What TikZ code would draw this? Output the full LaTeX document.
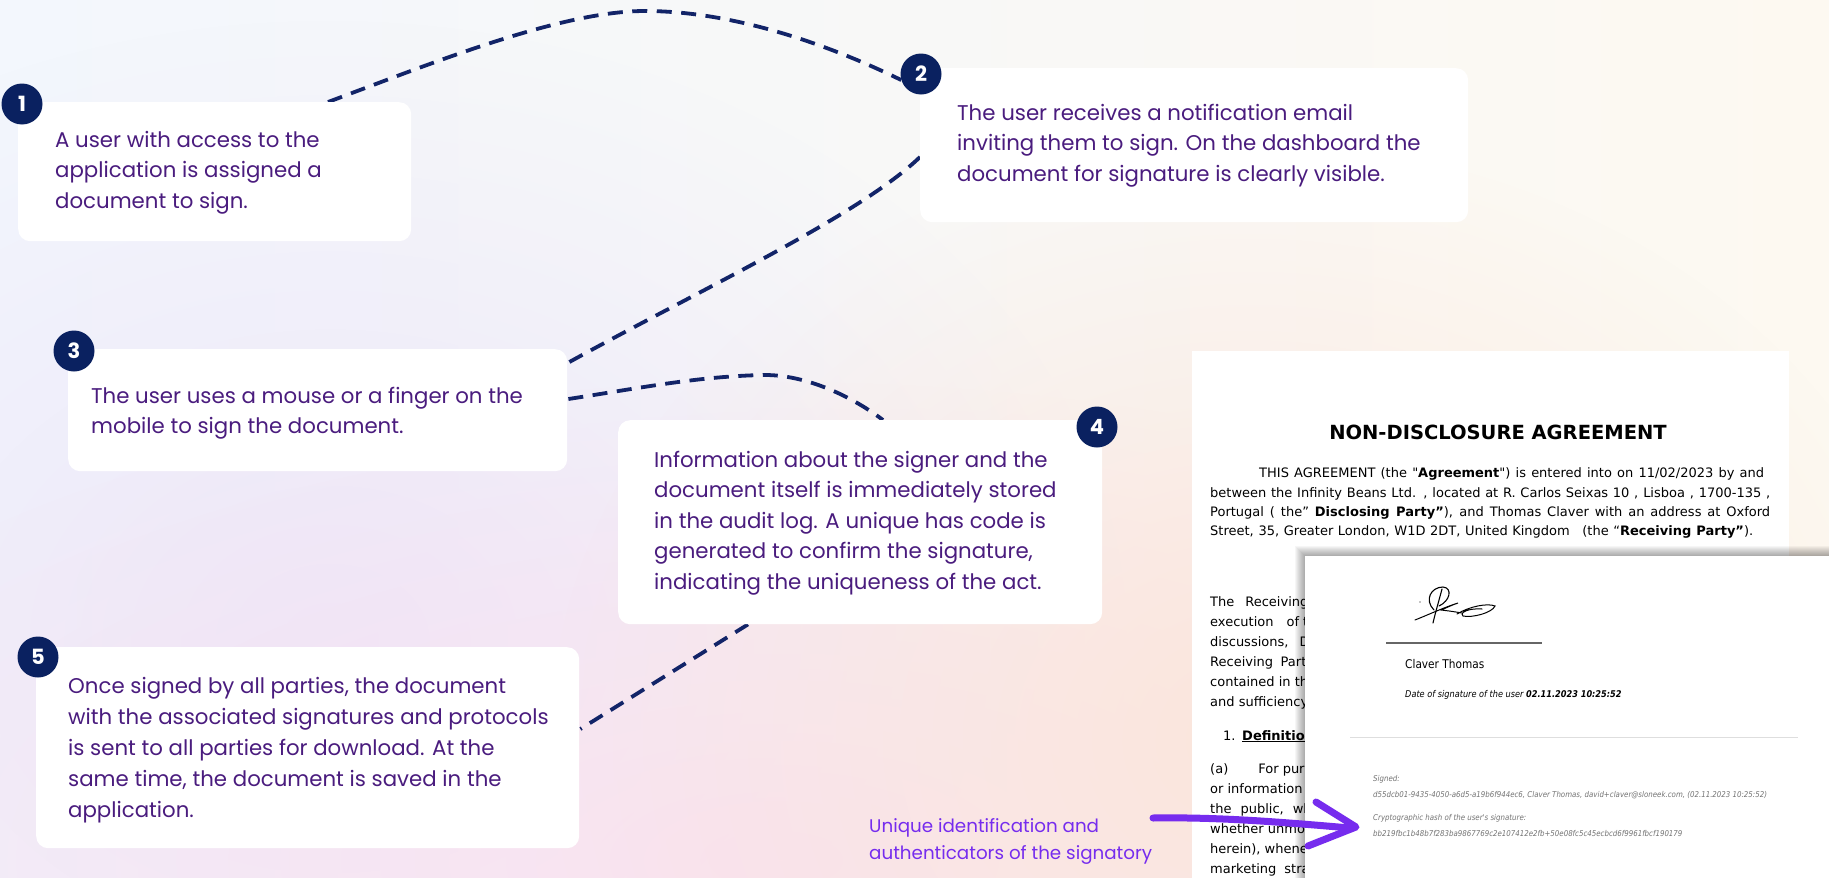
\documentclass[tikz,border=0pt]{standalone}
\usepackage{graphicx}
\usepackage{fontspec}
\setmainfont{Poppins}
\newfontfamily\dvs{DejaVu Sans}
\usetikzlibrary{calc,fadings}
\pgfdeclarelayer{back}
\pgfdeclarelayer{links}
\pgfsetlayers{back,links,main}
\definecolor{navy}{RGB}{18,36,104}
\definecolor{circ}{RGB}{10,33,96}
\definecolor{txtp}{RGB}{74,28,126}
\definecolor{vio}{RGB}{118,44,238}
\definecolor{bgA}{RGB}{243,247,253}
\definecolor{bgB}{RGB}{253,249,241}
\definecolor{lav}{RGB}{237,231,249}
\definecolor{pnk}{RGB}{250,226,240}
\definecolor{pch}{RGB}{251,230,220}
\definecolor{hashgray}{RGB}{115,115,115}
\tikzfading[name=blobfade, inner color=transparent!0, outer color=transparent!100]
\newcommand{\cond}[1]{\scalebox{0.88}[1]{#1}}
\begin{document}
\begin{tikzpicture}[x=1pt,y=-1pt,
  box/.style={fill=white, rounded corners=12pt, anchor=north west, inner sep=0pt},
  num/.style={circle, fill=circ, text=white, minimum size=41pt, inner sep=0pt, font=\fontsize{21}{21}\selectfont\bfseries},
  txt/.style={anchor=base west, inner sep=0pt, text=txtp, font=\fontsize{21.3}{30.5}\selectfont},
  dashconn/.style={draw=navy, line width=3.8pt, dash pattern=on 15pt off 9.5pt},
  doctxt/.style={anchor=base west, inner sep=0pt, text=black, font=\dvs\fontsize{13}{20}\selectfont},
  small/.style={anchor=base west, inner sep=0pt, text=hashgray, font=\dvs\itshape\fontsize{8}{9}\selectfont},
  arr/.style={draw=vio, line width=7pt, line cap=round, line join=round}
]
\useasboundingbox (0,0) rectangle (1829,878);
\clip (0,0) rectangle (1829,878);

\begin{pgfonlayer}{back}
\shade[left color=bgA, right color=bgB] (0,0) rectangle (1829,878);
\fill[lav, path fading=blobfade] (330,640) ellipse [x radius=800, y radius=620];
\fill[pnk, path fading=blobfade] (780,860) ellipse [x radius=1100, y radius=480];
\fill[pch, path fading=blobfade] (1250,740) ellipse [x radius=700, y radius=600];
\end{pgfonlayer}

% ---------- document 1 ----------
\node[fill=white, anchor=north west, minimum width=597pt, minimum height=560pt, inner sep=0pt] (doc1) at (1192,351) {};
\node[anchor=base, inner sep=0pt, font=\dvs\bfseries\fontsize{19.5}{20}\selectfont] (title) at (1498,439) {NON-DISCLOSURE AGREEMENT};
\node[doctxt] (p1) at (1259,477) {\makebox[505pt][s]{THIS AGREEMENT (the "\textbf{Agreement}") is entered into on 11/02/2023 by and}};
\node[doctxt] (p2) at (1210,497) {\makebox[560pt][s]{between the Infinity Beans Ltd. , located at R. Carlos Seixas 10 , Lisboa , 1700-135 ,}};
\node[doctxt] (p3) at (1210,516) {\makebox[560pt][s]{Portugal ( the” \textbf{Disclosing Party”}), and Thomas Claver with an address at Oxford}};
\node[doctxt] (p4) at (1210,535) {\makebox[543pt][s]{Street, 35, Greater London, W1D 2DT, United Kingdom \hspace{8pt}(the “\textbf{Receiving Party”}).}};
\node[doctxt] (pa) at (1210,606) {\parbox[t]{200pt}{The\hspace{11pt}Receiving Party\\execution\hspace{13pt}of this\\discussions,\hspace{11pt}Disclosing\\Receiving\hspace{7.5pt}Party\\contained in this\\and sufficiency of}};
\node[doctxt] (pd) at (1223,740) {1.\hspace{6.6pt}\textbf{\underline{Definitions}}};
\node[doctxt] (pb) at (1210,773) {\parbox[t]{200pt}{(a)\hspace{30pt}For purposes\\or information\\the\hspace{9pt}public,\hspace{9pt}whether\\whether unmodified\\herein), whenever\\marketing\hspace{8pt}strategies}};

% ---------- document 2 (signature page) ----------
\coordinate (d2) at (1305,556);
\foreach \i in {1,...,10} {
  \fill[black, opacity=0.035] ($(d2)+(-\i,-\i)$) rectangle (1829,878);
}
\node[fill=white, anchor=north west, minimum width=540pt, minimum height=340pt, inner sep=0pt] (doc2) at (d2) {};
% signature scribble
\draw[black, line width=1.1pt, line cap=round]
  (1434,610) .. controls (1424,600) and (1431,587) .. (1443,587)
  .. controls (1453,588) and (1450,601) .. (1439,606);
\draw[black, line width=1.1pt, line cap=round] (1442,589) .. controls (1438,604) and (1435,614) .. (1433,623);
\draw[black, line width=1.0pt, line cap=round] (1415,620) .. controls (1430,614) and (1445,607) .. (1458,603)
  .. controls (1452,605) and (1446,608) .. (1441,610) .. controls (1450,611) and (1456,612) .. (1462,613);
\draw[black, line width=1.0pt, line cap=round] (1457,614) .. controls (1470,606) and (1488,603) .. (1495,606)
  .. controls (1492,613) and (1472,618) .. (1463,616) .. controls (1459,612) and (1470,608) .. (1482,609);
\fill[black] (1420,602) circle [radius=0.7];
\draw[gray!80!black, line width=1.6pt] (1386,643) -- (1542,643);
\node[anchor=base west, inner sep=0pt, font=\dvs\fontsize{12}{14}\selectfont] (cname) at (1405,668) {\cond{Claver Thomas}};
\node[anchor=base west, inner sep=0pt, font=\dvs\itshape\fontsize{9.3}{11}\selectfont] (cdate) at (1405,697) {\cond{Date of signature of the user \textbf{02.11.2023 10:25:52}}};
\draw[black!13, line width=1pt] (1350,737) -- (1798,737);
\node[small] (s1) at (1373,781) {\cond{Signed:}};
\node[small] (s2) at (1373,797) {\cond{d55dcb01-9435-4050-a6d5-a19b6f944ec6, Claver Thomas, david+claver@sloneek.com, (02.11.2023 10:25:52)}};
\node[small] (s3) at (1373,820) {\cond{Cryptographic hash of the user's signature:}};
\node[small] (s4) at (1373,836) {\cond{bb219fbc1b48b7f283ba9867769c2e107412e2fb+50e08fc5c45ecbcd6f9961fbcf190179}};

% ---------- step boxes ----------
\node[box, minimum width=393pt, minimum height=139pt] (b1) at (18,102) {};
\node[box, minimum width=548pt, minimum height=154pt] (b2) at (920,68) {};
\node[box, minimum width=499pt, minimum height=122pt] (b3) at (68,349) {};
\node[box, minimum width=484pt, minimum height=204pt] (b4) at (618,420) {};
\node[box, minimum width=543pt, minimum height=201pt] (b5) at (36,647) {};

\node[txt] (t1) at (55,147) {\parbox[t]{350pt}{\raggedright A user with access to the\\application is assigned a\\document to sign.}};
\node[txt] (t2) at (957,120) {\parbox[t]{500pt}{\raggedright The user receives a notification email\\inviting them to sign. On the dashboard the\\document for signature is clearly visible.}};
\node[txt] (t3) at (91,403) {\parbox[t]{470pt}{\raggedright The user uses a mouse or a finger on the\\mobile to sign the document.}};
\node[txt] (t4) at (654,467) {\parbox[t]{445pt}{\raggedright Information about the signer and the\\document itself is immediately stored\\in the audit log. A unique has code is\\generated to confirm the signature,\\indicating the uniqueness of the act.}};
\node[txt, font=\fontsize{21.3}{31}\selectfont] (t5) at (68,693) {\parbox[t]{505pt}{\raggedright Once signed by all parties, the document\\with the associated signatures and protocols\\is sent to all parties for download. At the\\same time, the document is saved in the\\application.}};

\node[num] (n1) at (22,104) {1};
\node[num] (n2) at (921,74) {2};
\node[num] (n3) at (74,351) {3};
\node[num] (n4) at (1097,427) {4};
\node[num] (n5) at (38,657) {5};

% ---------- dashed connectors ----------
\begin{pgfonlayer}{links}
\draw[dashconn] ($(b1.north west)+(310,0)$) .. controls (430,64) and (560,11) .. (645,11)
  .. controls (740,11) and (840,50) .. (n2.197);
\draw[dashconn] ($(b2.north west)+(0,89)$) .. controls (860,215) and (700,290) .. ($(b3.north east)+(2,13)$);
\draw[dashconn] ($(b3.north east)+(1,50)$) .. controls (640,388) and (700,376) .. (765,375)
  .. controls (805,375) and (850,395) .. ($(b4.north west)+(265,0)$);
\draw[dashconn] ($(b4.south west)+(130,0)$) -- ($(b5.north east)+(1,82)$);
\end{pgfonlayer}

% ---------- annotation ----------
\node[anchor=base west, inner sep=0pt, text=vio, font=\fontsize{18.3}{27}\selectfont] (lab) at (869,832) {\parbox[t]{330pt}{\raggedright Unique identification and\\authenticators of the signatory}};
\coordinate (a0) at (1153,818);
\coordinate (a1) at (1350,828);
\coordinate (h1) at (1316,802);
\coordinate (tip) at (1356,827);
\coordinate (h2) at (1308,846);
\draw[arr] (a0) .. controls (1220,817) and (1280,822) .. (a1);
\draw[arr] (h1) -- (tip) -- (h2);
\end{tikzpicture}
\end{document}
